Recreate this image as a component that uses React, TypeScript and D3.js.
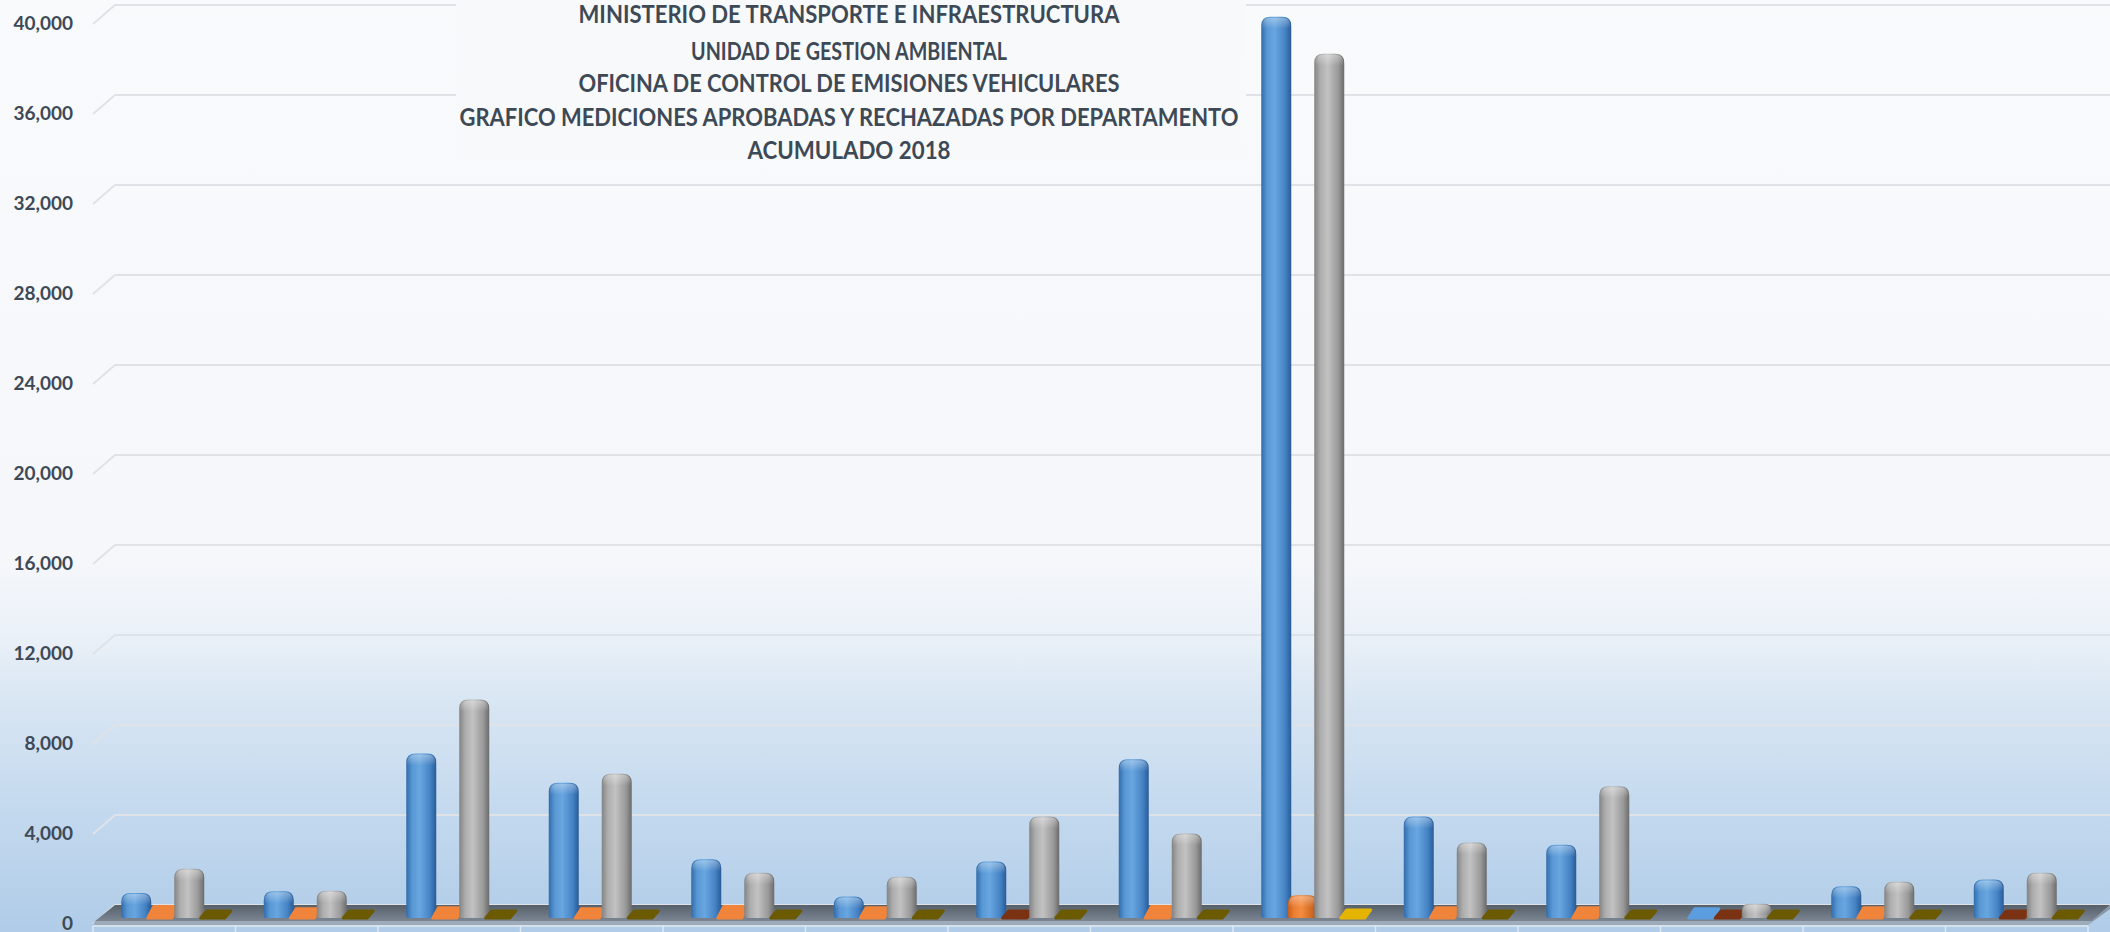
import React from "react";
import * as d3 from "d3";

const W = 2110;
const H = 932;

const categories = [
  "Boaco", "Carazo", "Chinandega", "Chontales", "Estelí", "Granada", "Jinotega",
  "León", "Managua", "Masaya", "Matagalpa", "Nueva Segovia", "Río San Juan", "Rivas",
];
const seriesNames = ["Serie 1", "Serie 2", "Serie 3", "Serie 4"];
const blueValues = [800, 880, 7000, 5700, 2300, 650, 2200, 6750, 39750, 4200, 2950, 100, 1100, 1400];
const orangeValues = [200, 100, 150, 100, 200, 150, 0, 200, 700, 150, 150, 0, 150, 0];
const grayValues = [1880, 900, 9400, 6100, 1700, 1520, 4200, 3450, 38100, 3050, 5550, 320, 1300, 1700];
const yellowValues = [0, 0, 0, 0, 0, 0, 0, 0, 50, 0, 0, 0, 0, 0];
const yTickValues = [0, 4000, 8000, 12000, 16000, 20000, 24000, 28000, 32000, 36000, 40000];
const titleLines = [
  "MINISTERIO DE TRANSPORTE E INFRAESTRUCTURA",
  "UNIDAD DE GESTION AMBIENTAL",
  "OFICINA DE CONTROL DE EMISIONES VEHICULARES",
  "GRAFICO MEDICIONES APROBADAS Y RECHAZADAS POR DEPARTAMENTO",
  "ACUMULADO 2018",
];

const allSeries = [blueValues, orangeValues, grayValues, yellowValues];

const seriesStyles = [
  { stops: ["#326cab", "#5898d4", "#68a6e0", "#4582c4", "#285b96"], flat: "#5c9de0", zero: "#2f5f95" },
  { stops: ["#c45e1c", "#ec7d31", "#f58c40", "#d06a22", "#9e4a12"], flat: "#f0843a", zero: "#7a3212" },
  { stops: ["#838383", "#adadad", "#c2c2c2", "#999999", "#6b6b6b"], flat: "#c9c9c9", zero: "#7a7a7a" },
  { stops: ["#c49a00", "#f0c000", "#ffcc10", "#d9a800", "#a88400"], flat: "#e4b400", zero: "#6b5a00" },
];
const stopOffsets = [0, 0.2, 0.45, 0.8, 1];

// layout
const DX = 22; // depth offset x (front -> back)
const DY = 19; // depth offset y
const xFront0 = 93;
const xFront1 = 2088;
const yBack0 = 905;
const yBack1 = 5;
const barW = 30;

const FONT = "Lato, 'Open Sans', 'DejaVu Sans', sans-serif";
const TEXT = "#3e4956";

export default function App() {
  const x = d3.scaleBand<string>().domain(categories).range([xFront0, xFront1]).padding(0);
  const inner = d3.scaleBand<string>().domain(seriesNames).range([30, 136]).padding(0);
  const y = d3.scaleLinear().domain([0, 40000]).range([yBack0, yBack1]);
  const fmt = d3.format(",");

  const barBottom = y(0) + 13;
  const barTop = (v: number) => y(v) + 6;

  const titleX = 849;
  const titleYs = [13, 50, 82, 116, 149];
  const titleLens = [541, 316, 541, 779, 203];

  const bars: React.ReactNode[] = [];
  categories.forEach((c, ci) => {
    allSeries.forEach((vals, si) => {
      const v = vals[ci];
      const cx = (x(c) as number) + (inner(seriesNames[si]) as number) + inner.bandwidth() / 2;
      const xl = cx - barW / 2;
      const yt = barTop(v);
      const yb = barBottom;
      const h = yb - yt;
      const st = seriesStyles[si];
      if (h < 12) {
        const sk = 6;
        const fill = v === 0 ? st.zero : st.flat;
        bars.push(
          <path
            key={`b-${ci}-${si}`}
            d={`M${xl},${yb} L${xl + barW - sk},${yb} L${xl + barW},${yt} L${xl + sk},${yt} Z`}
            fill={fill}
            stroke={fill}
            strokeWidth={3}
            strokeLinejoin="round"
          />
        );
      } else {
        const r = Math.min(9, h / 2);
        const d =
          `M${xl},${yb - 2} L${xl},${yt + r} Q${xl},${yt} ${xl + r},${yt} ` +
          `L${xl + barW - r},${yt} Q${xl + barW},${yt} ${xl + barW},${yt + r} ` +
          `L${xl + barW},${yb - 2} Q${xl + barW},${yb} ${xl + barW - 2},${yb} ` +
          `L${xl + 2},${yb} Q${xl},${yb} ${xl},${yb - 2} Z`;
        const capD =
          `M${xl + 1},${yt + r + 3} L${xl + 1},${yt + r} Q${xl + 1},${yt + 1} ${xl + r},${yt + 1} ` +
          `L${xl + barW - r},${yt + 1} Q${xl + barW - 1},${yt + 1} ${xl + barW - 1},${yt + r} ` +
          `L${xl + barW - 1},${yt + r + 3} Z`;
        bars.push(
          <g key={`b-${ci}-${si}`}>
            <path d={d} fill={`url(#barGrad${si})`} />
            <path d={capD} fill="url(#capHi)" />
          </g>
        );
      }
    });
  });

  const yb0 = y(0);
  const floorFrontY = yb0 + 16;

  return (
    <svg
      width={W}
      height={H}
      viewBox={`0 0 ${W} ${H}`}
      style={{ position: "absolute", left: 0, top: 0, display: "block" }}
    >
      <defs>
        <linearGradient id="bgGrad" x1="0" y1="0" x2="0" y2="1">
          <stop offset="0" stopColor="#f9fafc" />
          <stop offset="0.6" stopColor="#f5f7fb" />
          <stop offset="0.68" stopColor="#ebf1f8" />
          <stop offset="0.75" stopColor="#d9e6f3" />
          <stop offset="0.88" stopColor="#c2d8ee" />
          <stop offset="1" stopColor="#b0cce8" />
        </linearGradient>
        {seriesStyles.map((s, i) => (
          <linearGradient key={i} id={`barGrad${i}`} x1="0" y1="0" x2="1" y2="0">
            {s.stops.map((c, j) => (
              <stop key={j} offset={stopOffsets[j]} stopColor={c} />
            ))}
          </linearGradient>
        ))}
        <linearGradient id="capHi" x1="0" y1="0" x2="0" y2="1">
          <stop offset="0" stopColor="#ffffff" stopOpacity="0.35" />
          <stop offset="1" stopColor="#ffffff" stopOpacity="0" />
        </linearGradient>
        <linearGradient id="floorGrad" x1="0" y1="0" x2="0" y2="1">
          <stop offset="0" stopColor="#56606b" />
          <stop offset="1" stopColor="#7b8692" />
        </linearGradient>
      </defs>

      <rect x={0} y={0} width={W} height={H} fill="url(#bgGrad)" />

      {/* gridlines on back wall with side-wall diagonals */}
      {yTickValues.map((t) => (
        <path
          key={`g-${t}`}
          d={`M${xFront0},${y(t) + DY} L${xFront0 + DX},${y(t)} L${W},${y(t)}`}
          fill="none"
          stroke="#dfe3e8"
          strokeWidth={2}
        />
      ))}

      {/* title background box */}
      <rect x={456} y={0} width={790} height={162} fill="#f8f9fb" />

      {/* floor */}
      <path
        d={`M${xFront0 + DX},${yb0} L${W},${yb0} L${xFront1 + 4},${floorFrontY} L${xFront0 + 2},${floorFrontY} Z`}
        fill="url(#floorGrad)"
      />
      <path
        d={`M${xFront0 + 2},${floorFrontY} L${xFront1 + 4},${floorFrontY} L${xFront1},${floorFrontY + 4} L${xFront0},${floorFrontY + 4} Z`}
        fill="#9eabb8"
      />
      <path
        d={`M${xFront1 + 4},${floorFrontY} L${W},${yb0} L${W},${yb0 + 4} L${xFront1},${floorFrontY + 4} Z`}
        fill="#8a97a4"
      />
      <line x1={xFront0} x2={xFront1} y1={floorFrontY + 5} y2={floorFrontY + 5} stroke="#dfe8f1" strokeWidth={1.5} />
      {[...categories.map((c) => x(c) as number), xFront1].map((px, i) => (
        <line key={`t-${i}`} x1={px} x2={px} y1={floorFrontY + 5} y2={H} stroke="#dfe8f1" strokeWidth={1.5} />
      ))}

      {bars}

      {/* y axis labels */}
      {yTickValues.map((t) => (
        <text
          key={`l-${t}`}
          x={73}
          y={y(t) + DY - 2}
          textAnchor="end"
          dominantBaseline="central"
          fontFamily={FONT}
          fontWeight={700}
          fontSize={19}
          fill={TEXT}
        >
          {fmt(t)}
        </text>
      ))}

      {/* title */}
      {titleLines.map((line, i) => (
        <text
          key={`tt-${i}`}
          x={titleX}
          y={titleYs[i]}
          textAnchor="middle"
          dominantBaseline="central"
          fontFamily={FONT}
          fontWeight={700}
          fontSize={24}
          fill={TEXT}
          textLength={titleLens[i]}
          lengthAdjust="spacingAndGlyphs"
        >
          {line}
        </text>
      ))}
    </svg>
  );
}
